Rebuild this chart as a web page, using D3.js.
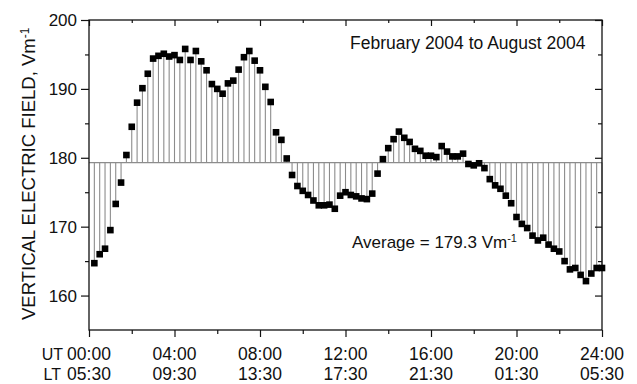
<html>
<head>
<script src="https://cdn.jsdelivr.net/npm/d3@7"></script>
<style>
body { margin: 0; background: #fff; }
text { font-family: "Liberation Sans", Arial, sans-serif; fill: #111; }
.axis path { display: none; }
.axis line { stroke: #111; stroke-width: 1.2; }
</style>
</head>
<body>
<svg></svg>
<script>

var width = 637;
var height = 384;

// 15-minute averages, hour of day (UT)
var hours = [];
for (var k = 1; k <= 96; k++) hours.push(k * 0.25);

var fieldValues = [
  164.7, 166.0, 166.8, 169.5, 173.3, 176.4, 180.4, 184.5, 188.0, 190.1, 192.2, 194.4,
  194.8, 195.1, 194.7, 194.9, 194.2, 195.8, 194.2, 195.5, 194.0, 192.7, 190.7, 190.0,
  189.3, 190.8, 191.2, 192.8, 194.6, 195.5, 194.1, 192.7, 190.3, 188.1, 183.7, 182.6,
  179.9, 177.5, 175.9, 175.2, 174.6, 173.8, 173.1, 173.1, 173.2, 172.6, 174.5, 175.0,
  174.6, 174.4, 174.1, 174.0, 174.8, 177.7, 179.8, 181.4, 182.7, 183.8, 182.9, 182.3,
  181.3, 181.0, 180.3, 180.3, 180.1, 181.7, 180.9, 180.2, 180.2, 180.6, 179.1, 178.9,
  179.2, 178.5, 176.9, 176.0, 175.5, 174.5, 173.4, 171.4, 170.4, 169.8, 168.7, 168.0,
  168.4, 167.4, 166.8, 166.4, 165.0, 163.8, 164.0, 163.0, 162.1, 163.2, 164.0, 164.0
];

var average = 179.3;

var majorHours = [0, 4, 8, 12, 16, 20, 24];
var minorHours = [2, 6, 10, 14, 18, 22];
var utLabels = ["00:00", "04:00", "08:00", "12:00", "16:00", "20:00", "24:00"];
var ltLabels = ["05:30", "09:30", "13:30", "17:30", "21:30", "01:30", "05:30"];

var majorField = [160, 170, 180, 190, 200];
var minorField = [165, 175, 185, 195];

var svg = d3.select('svg').attr("width", width).attr("height", height);

var x = d3.scaleLinear().domain([0, 24]).range([89, 602]);
var y = d3.scaleLinear().domain([155, 200]).range([330, 20]);

var points = hours.map(function(h, i) { return {h: h, v: fieldValues[i]}; });

// average line
svg.append("line")
  .attr("x1", x(0)).attr("x2", x(24))
  .attr("y1", y(average)).attr("y2", y(average))
  .attr("stroke", "#8c8c8c").attr("stroke-width", 1.1);

// stems from the average
svg.selectAll(".stem").data(points).enter().append("line")
  .attr("class", "stem")
  .attr("x1", function(d) { return x(d.h); })
  .attr("x2", function(d) { return x(d.h); })
  .attr("y1", y(average))
  .attr("y2", function(d) { return y(d.v); })
  .attr("stroke", "#8c8c8c").attr("stroke-width", 1.1);

// frame
svg.append("rect")
  .attr("x", x(0)).attr("y", y(200))
  .attr("width", x(24) - x(0)).attr("height", y(155) - y(200))
  .attr("fill", "none").attr("stroke", "#111").attr("stroke-width", 1.3);

// bottom axis
svg.append("g").attr("class", "axis")
  .attr("transform", "translate(0," + y(155) + ")")
  .call(d3.axisBottom(x).tickValues(majorHours).tickSize(7).tickFormat(""));
svg.append("g").attr("class", "axis")
  .attr("transform", "translate(0," + y(155) + ")")
  .call(d3.axisBottom(x).tickValues(minorHours).tickSize(4).tickFormat(""));

// top axis (inward)
svg.append("g").attr("class", "axis")
  .attr("transform", "translate(0," + y(200) + ")")
  .call(d3.axisBottom(x).tickValues(majorHours).tickSize(6).tickFormat(""));
svg.append("g").attr("class", "axis")
  .attr("transform", "translate(0," + y(200) + ")")
  .call(d3.axisBottom(x).tickValues(minorHours).tickSize(3).tickFormat(""));

// left axis
svg.append("g").attr("class", "axis yaxis")
  .attr("transform", "translate(" + x(0) + ",0)")
  .call(d3.axisLeft(y).tickValues(majorField).tickSize(8).tickPadding(4))
  .selectAll("text").style("font-size", "17px").style("font-family", "Liberation Sans, Arial, sans-serif");
svg.append("g").attr("class", "axis")
  .attr("transform", "translate(" + x(0) + ",0)")
  .call(d3.axisLeft(y).tickValues(minorField).tickSize(4).tickFormat(""));

// right axis (inward)
svg.append("g").attr("class", "axis")
  .attr("transform", "translate(" + x(24) + ",0)")
  .call(d3.axisLeft(y).tickValues(majorField).tickSize(7).tickFormat(""));
svg.append("g").attr("class", "axis")
  .attr("transform", "translate(" + x(24) + ",0)")
  .call(d3.axisLeft(y).tickValues(minorField).tickSize(4).tickFormat(""));

// UT / LT labels
svg.selectAll(".ut").data(majorHours).enter().append("text")
  .attr("x", function(d) { return x(d); }).attr("y", 360)
  .attr("text-anchor", "middle").style("font-size", "17.5px")
  .text(function(d, i) { return utLabels[i]; });
svg.selectAll(".lt").data(majorHours).enter().append("text")
  .attr("x", function(d) { return x(d); }).attr("y", 380)
  .attr("text-anchor", "middle").style("font-size", "17.5px")
  .text(function(d, i) { return ltLabels[i]; });
svg.append("text").attr("x", 63).attr("y", 360).attr("text-anchor", "end")
  .style("font-size", "16px").text("UT");
svg.append("text").attr("x", 61).attr("y", 380).attr("text-anchor", "end")
  .style("font-size", "16px").text("LT");

// markers
svg.selectAll(".pt").data(points).enter().append("rect")
  .attr("class", "pt")
  .attr("x", function(d) { return x(d.h) - 3.3; })
  .attr("y", function(d) { return y(d.v) - 3.3; })
  .attr("width", 6.6).attr("height", 6.6)
  .attr("fill", "#000");

// y label
var yl = svg.append("text")
  .attr("transform", "translate(35,320) rotate(-90)")
  .style("font-size", "18.5px");
yl.append("tspan").text("VERTICAL ELECTRIC FIELD, Vm");
yl.append("tspan").attr("dy", "-0.5em").style("font-size", "12px").text("-1");

svg.append("text").attr("x", 350).attr("y", 49)
  .style("font-size", "17.5px").text("February 2004 to August 2004");

var av = svg.append("text").attr("x", 352).attr("y", 248).style("font-size", "17px");
av.append("tspan").text("Average = 179.3 Vm");
av.append("tspan").attr("dy", "-0.55em").style("font-size", "11px").text("-1");

</script>
</body>
</html>
